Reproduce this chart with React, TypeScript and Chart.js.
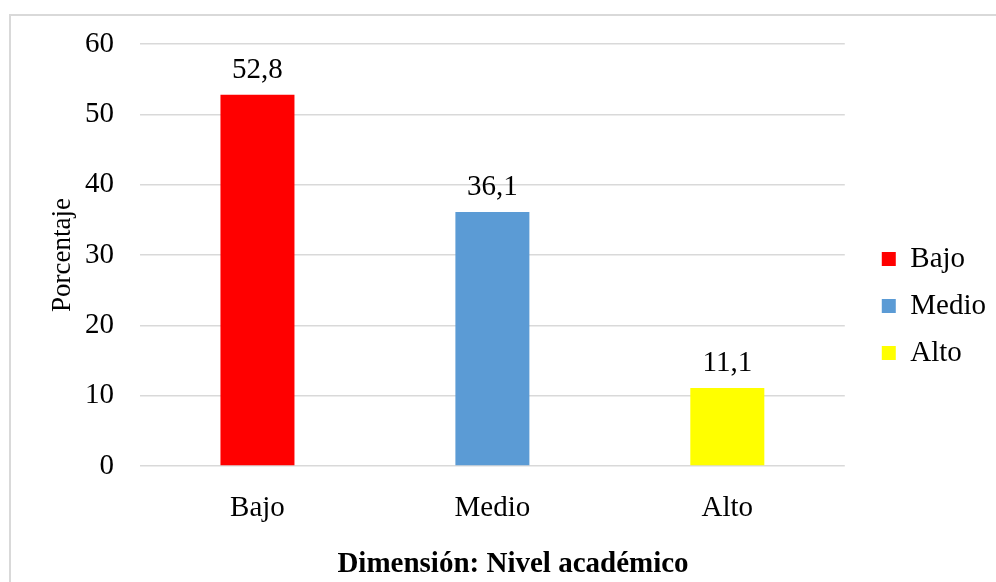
import React, { useEffect, useRef } from 'react';
import { Chart, registerables } from 'chart.js';

Chart.register(...registerables);

const categories = ['Bajo', 'Medio', 'Alto'];
const values = [52.8, 36.1, 11.1];
const barColors = ['#FF0000', '#5B9BD5', '#FFFF00'];
const yTicks = [0, 10, 20, 30, 40, 50, 60];
const xTitle = 'Dimensión: Nivel académico';
const yTitle = 'Porcentaje';

const FONT = "'Liberation Serif', 'Times New Roman', Times, serif";

export default function App() {
  const ref = useRef<HTMLCanvasElement>(null);

  useEffect(() => {
    const canvas = ref.current;
    if (!canvas) return;

    const valueLabels = {
      id: 'valueLabels',
      afterDatasetsDraw(chart: any) {
        const ctx = chart.ctx;
        const meta = chart.getDatasetMeta(0);
        ctx.save();
        ctx.font = `29px ${FONT}`;
        ctx.fillStyle = '#000';
        ctx.textAlign = 'center';
        ctx.textBaseline = 'alphabetic';
        meta.data.forEach((el: any, i: number) => {
          const { x, y } = el.getProps(['x', 'y'], true);
          ctx.fillText(String(values[i]).replace('.', ','), x, y - 17);
        });
        ctx.restore();
      },
    };

    const chart = new Chart(canvas, {
      type: 'bar',
      data: {
        labels: categories,
        datasets: [
          {
            label: 'Porcentaje',
            data: values,
            backgroundColor: barColors,
            borderWidth: 0,
            categoryPercentage: 1,
            barPercentage: 0.315,
            yAxisID: 'y',
            xAxisID: 'x',
          },
        ],
      },
      options: {
        responsive: false,
        animation: false,
        devicePixelRatio: 1,
        layout: { padding: { left: 30, right: 0, top: 44, bottom: 14 } },
        plugins: {
          tooltip: { enabled: false },
          title: {
            display: true,
            position: 'bottom',
            text: xTitle,
            color: '#000',
            font: { family: FONT, size: 29, weight: 'bold', lineHeight: 1.2 },
            padding: { top: 0, bottom: -13.9 },
            fullSize: true,
          },
          legend: {
            display: true,
            position: 'right',
            fullSize: true,
            align: 'center',
            labels: {
              color: '#000',
              font: { family: FONT, size: 29 },
              boxWidth: 14,
              boxHeight: 14,
              padding: 18,
              generateLabels: () =>
                categories.map((c, i) => ({
                  text: c,
                  fillStyle: barColors[i],
                  strokeStyle: barColors[i],
                  lineWidth: 0,
                  hidden: false,
                  index: i,
                  datasetIndex: 0,
                })),
            },
          },
        },
        scales: {
          x: {
            type: 'category',
            position: 'bottom',
            grid: { display: false },
            border: { display: false },
            ticks: {
              color: '#000',
              font: { family: FONT, size: 29 },
              padding: 17,
              maxRotation: 0,
            },
            afterFit: (s: any) => {
              s.height = 81.1;
            },
          },
          y: {
            type: 'linear',
            position: 'left',
            min: 0,
            max: 60,
            afterBuildTicks: (s: any) => {
              s.ticks = yTicks.map((v) => ({ value: v }));
            },
            grid: { color: '#d9d9d9', lineWidth: 1.5, drawTicks: false },
            border: { display: false },
            ticks: {
              color: '#000',
              font: { family: FONT, size: 29 },
              padding: 26,
            },
            title: {
              display: true,
              text: yTitle,
              color: '#000',
              font: { family: FONT, size: 27, lineHeight: 1.2 },
              padding: { top: 17, bottom: 0 },
            },
            afterFit: (s: any) => {
              s.width = 110;
            },
          },
          gap: {
            type: 'linear',
            position: 'right',
            display: true,
            grid: { display: false },
            border: { display: false },
            ticks: { display: false },
            afterFit: (s: any) => {
              s.width = 19;
            },
          },
        },
      },
      plugins: [valueLabels],
    } as any);

    return () => chart.destroy();
  }, []);

  return (
    <div
      style={{
        position: 'fixed',
        left: 0,
        top: 0,
        width: 996,
        height: 582,
        overflow: 'hidden',
        background: '#fff',
      }}
    >
      <div
        style={{
          position: 'absolute',
          left: 9,
          top: 14,
          width: 1200,
          height: 800,
          border: '2px solid #d9d9d9',
          boxSizing: 'border-box',
        }}
      />
      <canvas
        ref={ref}
        width={996}
        height={582}
        style={{ position: 'absolute', left: 0, top: 0, width: 996, height: 582 }}
      />
    </div>
  );
}
